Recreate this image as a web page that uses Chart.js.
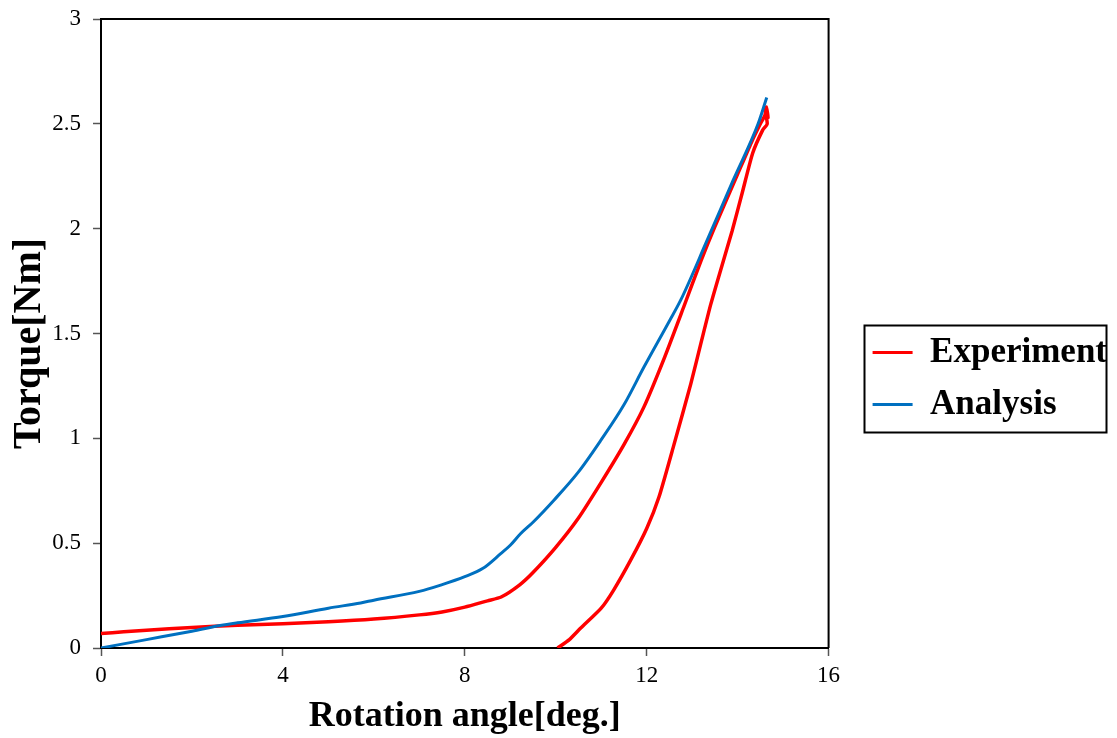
<!DOCTYPE html>
<html>
<head>
<meta charset="utf-8">
<script src="https://cdn.jsdelivr.net/npm/chart.js@4/dist/chart.umd.min.js"></script>
<style>
  html, body { margin: 0; padding: 0; background: #fff; }
  #wrap { width: 1117px; height: 738px; position: relative; }
</style>
</head>
<body>
<div id="wrap"><canvas id="c" width="1117" height="738"></canvas></div>
<script>
// ---- data ----
const seriesNames = ['Experiment', 'Analysis'];

const expAngle = [0, 0.5, 1, 2, 3, 4, 5, 6, 7, 7.5, 8, 8.5, 8.8, 9.2, 9.5, 10, 10.5, 11, 11.5, 11.94,
  12.4, 12.82, 13.2, 13.5, 14.0, 14.3, 14.5, 14.6, 14.63, 14.67, 14.6, 14.65,
  14.55, 14.33, 14.1, 13.88, 13.65, 13.41, 13.2, 12.97, 12.6, 12.27, 12.0, 11.65, 11.27, 11.0, 10.55, 10.3, 10.04];
const expTorque = [0.069, 0.077, 0.085, 0.098, 0.108, 0.116, 0.125, 0.138, 0.158, 0.172, 0.195, 0.225, 0.243, 0.30, 0.36, 0.48, 0.62, 0.79, 0.97, 1.15,
  1.39, 1.63, 1.85, 2.01, 2.26, 2.41, 2.50, 2.54, 2.58, 2.53, 2.57, 2.50,
  2.47, 2.36, 2.17, 1.99, 1.82, 1.64, 1.46, 1.26, 0.97, 0.72, 0.57, 0.42, 0.275, 0.19, 0.095, 0.04, 0.0];

const anaAngle = [0, 1, 2, 2.62, 3, 4, 5, 5.71, 6, 7, 7.47, 8, 8.4, 8.79, 9.0, 9.23, 9.5, 9.96, 10.5, 10.99,
  11.5, 11.94, 12.5, 12.75, 13.33, 13.9, 14.45, 14.64];
const anaTorque = [0, 0.04, 0.08, 0.107, 0.12, 0.15, 0.19, 0.215, 0.228, 0.27, 0.30, 0.34, 0.38, 0.45, 0.49, 0.546, 0.60, 0.705, 0.84, 0.99,
  1.16, 1.34, 1.56, 1.66, 1.945, 2.23, 2.50, 2.626];

const xTickLabels = ['0', '4', '8', '12', '16'];
const yTickLabels = ['0', '0.5', '1', '1.5', '2', '2.5', '3'];
const seriesColors = ['#FF0000', '#0070C0'];

const toPoints = (xs, ys) => xs.map((x, i) => ({ x: x, y: ys[i] }));

const serif = "'Liberation Serif', 'Times New Roman', serif";

const framePlugin = {
  id: 'frame',
  afterDraw(chart) {
    const ctx = chart.ctx, a = chart.chartArea;
    ctx.save();
    ctx.strokeStyle = '#000';
    ctx.lineWidth = 2;
    ctx.beginPath();
    ctx.moveTo(a.left, a.top);
    ctx.lineTo(a.right, a.top);
    ctx.lineTo(a.right, a.bottom);
    ctx.stroke();
    // legend border
    const hb = chart.legend.legendHitBoxes;
    if (hb && hb.length) {
      let l = Infinity, t = Infinity, r = -Infinity, b = -Infinity;
      hb.forEach(h => { l = Math.min(l, h.left); t = Math.min(t, h.top); r = Math.max(r, h.left + h.width); b = Math.max(b, h.top + h.height); });
      ctx.lineWidth = 2;
      ctx.strokeStyle = '#000';
      ctx.strokeRect(Math.round(l - 9) + 0.5, Math.round(t - 10) + 0.5, Math.round(r - l + 8), Math.round(b - t + 20));
    }
    ctx.restore();
  }
};

const zeroPad = (s) => { s.paddingTop = 0; s.paddingBottom = 0; s.paddingLeft = 0; s.paddingRight = 0; };

new Chart(document.getElementById('c'), {
  type: 'scatter',
  data: {
    datasets: [
      { label: seriesNames[0], data: toPoints(expAngle, expTorque), showLine: true, borderColor: seriesColors[0], backgroundColor: seriesColors[0], borderWidth: 3.5, pointRadius: 0, tension: 0.2, order: 2 },
      { label: seriesNames[1], data: toPoints(anaAngle, anaTorque), showLine: true, borderColor: seriesColors[1], backgroundColor: seriesColors[1], borderWidth: 3, pointRadius: 0, cubicInterpolationMode: 'monotone', order: 1 }
    ]
  },
  options: {
    responsive: false,
    animation: false,
    layout: { padding: { left: 0, top: 19, right: 0, bottom: 0 } },
    plugins: {
      tooltip: { enabled: false },
      legend: {
        position: 'right',
        align: 'center',
        maxWidth: 320,
        labels: {
          boxWidth: 40,
          boxHeight: 3,
          padding: 17,
          color: '#000',
          font: { family: serif, size: 35, weight: 'bold' },
          generateLabels(chart) {
            return chart.data.datasets.map((ds, i) => ({
              text: ds.label, fillStyle: ds.borderColor, strokeStyle: ds.borderColor,
              lineWidth: 0, hidden: false, datasetIndex: i, fontColor: '#000'
            }));
          }
        }
      }
    },
    scales: {
      x: {
        type: 'linear', min: 0, max: 16,
        afterFit(s) { s.height = 90; zeroPad(s); },
        ticks: {
          stepSize: 4, color: '#000', padding: 6,
          font: { family: serif, size: 23 },
          callback: (v) => xTickLabels[xTickLabels.indexOf(String(v))] ?? ''
        },
        grid: { drawOnChartArea: false, drawTicks: true, tickLength: 8, tickColor: '#555', tickWidth: 1.5 },
        border: { color: '#000', width: 2 },
        title: { display: true, text: 'Rotation angle[deg.]', color: '#000', padding: { top: 0, bottom: 0 },
          font: { family: serif, size: 36, weight: 'bold', lineHeight: 1.2 } }
      },
      y: {
        type: 'linear', min: 0, max: 3,
        afterFit(s) { s.width = 101; zeroPad(s); },
        ticks: {
          stepSize: 0.5, color: '#000', padding: 12,
          font: { family: serif, size: 23 },
          callback: (v) => yTickLabels[Math.round(v * 2)] ?? ''
        },
        grid: { drawOnChartArea: false, drawTicks: true, tickLength: 8, tickColor: '#555', tickWidth: 1.5 },
        border: { color: '#000', width: 2 },
        title: { display: true, text: 'Torque[Nm]  ', color: '#000', padding: { top: 6, bottom: 0 },
          font: { family: serif, size: 40, weight: 'bold', lineHeight: 1.2 } }
      },
      gap: {
        type: 'linear', position: 'right', min: 0, max: 1, display: true,
        afterFit(s) { s.width = 27; zeroPad(s); },
        ticks: { display: false },
        grid: { display: false, drawTicks: false },
        border: { display: false }
      }
    }
  },
  plugins: [framePlugin]
});
</script>
</body>
</html>
